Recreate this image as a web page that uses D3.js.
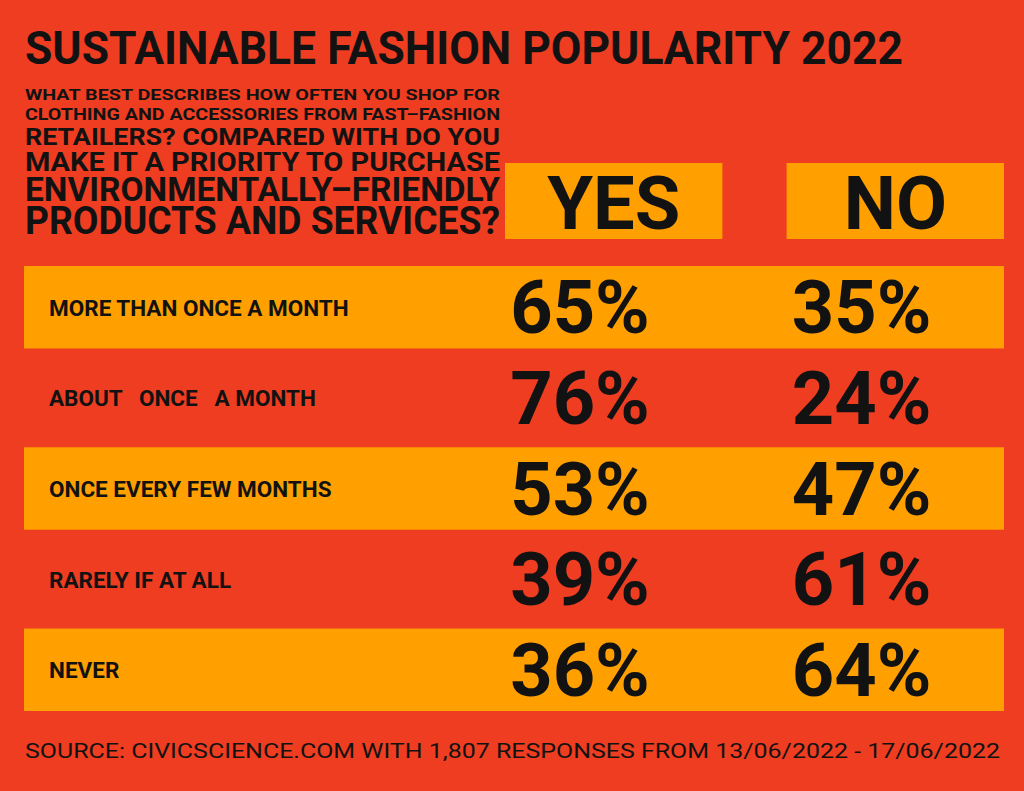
<!DOCTYPE html>
<html>
<head>
<meta charset="utf-8">
<script src="https://cdn.jsdelivr.net/npm/d3@7"></script>
<style>
  body { margin: 0; background: #ef3d21; }
  svg { display: block; }
</style>
</head>
<body>
<div id="app"></div>
<script>
'use strict'
const title = 'SUSTAINABLE FASHION POPULARITY 2022'
const questionLines = [
  'WHAT BEST DESCRIBES HOW OFTEN YOU SHOP FOR',
  'CLOTHING AND ACCESSORIES FROM FAST–FASHION',
  'RETAILERS? COMPARED WITH DO YOU',
  'MAKE IT A PRIORITY TO PURCHASE',
  'ENVIRONMENTALLY–FRIENDLY',
  'PRODUCTS AND SERVICES?'
]
const categories = [
  'MORE THAN ONCE A MONTH',
  'ABOUT   ONCE   A MONTH',
  'ONCE EVERY FEW MONTHS',
  'RARELY IF AT ALL',
  'NEVER'
]
const columns = ['YES', 'NO']
const yesValues = [65, 76, 53, 39, 36]
const noValues = [35, 24, 47, 61, 64]
const source = 'SOURCE: CIVICSCIENCE.COM WITH 1,807 RESPONSES FROM 13/06/2022 - 17/06/2022'

const width = 1024
const height = 791
const red = '#ef3d21'
const orange = '#ffa000'
const ink = '#121212'
const font = 'Roboto, "Noto Sans", sans-serif'

// layout of the question block (each line is justified to the same width)
const qBaselines = [100, 120, 145, 170.5, 200.5, 234]
const qSizes = [15.5, 16, 24.5, 26, 33, 38]

const rows = categories.map((c, i) => ({ cat: c, YES: yesValues[i], NO: noValues[i], i }))

const svg = d3.select('#app').append('svg')
  .attr('width', width)
  .attr('height', height)

svg.append('rect')
  .attr('width', width)
  .attr('height', height)
  .attr('fill', red)

const y = d3.scaleBand()
  .domain(categories)
  .range([266, 711])
  .paddingInner(0.09)

const x = d3.scaleBand()
  .domain(columns)
  .range([505, 1004])
  .paddingInner(0.228)

// title
svg.append('text')
  .attr('x', 25)
  .attr('y', 64)
  .attr('textLength', 878)
  .attr('lengthAdjust', 'spacingAndGlyphs')
  .style('font', `700 47px ${font}`)
  .attr('fill', ink)
  .text(title)

// question
svg.selectAll('text.q')
  .data(questionLines)
  .enter().append('text')
  .attr('class', 'q')
  .attr('x', 25)
  .attr('y', (d, i) => qBaselines[i])
  .attr('textLength', 475)
  .attr('lengthAdjust', 'spacingAndGlyphs')
  .style('font-family', font)
  .style('font-weight', 700)
  .style('font-size', (d, i) => qSizes[i] + 'px')
  .attr('fill', ink)
  .text(d => d)

// column headers
const head = svg.selectAll('g.head')
  .data(columns)
  .enter().append('g')
  .attr('class', 'head')

head.append('rect')
  .attr('x', d => x(d))
  .attr('y', 163)
  .attr('width', x.bandwidth())
  .attr('height', 76)
  .attr('fill', orange)

head.append('text')
  .attr('x', d => x(d) + x.bandwidth() / 2)
  .attr('y', 229)
  .attr('text-anchor', 'middle')
  .style('font', `700 74px ${font}`)
  .attr('fill', ink)
  .text(d => d)

// alternating row bands
svg.selectAll('rect.band')
  .data(rows.filter(d => d.i % 2 === 0))
  .enter().append('rect')
  .attr('class', 'band')
  .attr('x', 24)
  .attr('y', d => y(d.cat))
  .attr('width', 1004 - 24)
  .attr('height', y.bandwidth())
  .attr('fill', orange)

// row labels
svg.selectAll('text.label')
  .data(rows)
  .enter().append('text')
  .attr('class', 'label')
  .attr('x', 49)
  .attr('y', d => y(d.cat) + y.bandwidth() / 2 + 8.5)
  .style('font', `700 22.5px ${font}`)
  .style('white-space', 'pre')
  .attr('fill', ink)
  .text(d => d.cat)

// values
columns.forEach(col => {
  svg.selectAll('text.v' + col)
    .data(rows)
    .enter().append('text')
    .attr('class', 'v' + col)
    .attr('x', x(col) + x.bandwidth() * 0.345)
    .attr('y', d => y(d.cat) + y.bandwidth() / 2 + 26)
    .attr('text-anchor', 'middle')
    .style('font', `700 74px ${font}`)
    .attr('fill', ink)
    .text(d => d[col] + '%')
})

// source
svg.append('text')
  .attr('x', 25)
  .attr('y', 758)
  .attr('textLength', 975)
  .attr('lengthAdjust', 'spacingAndGlyphs')
  .style('font', `400 21px ${font}`)
  .attr('fill', ink)
  .text(source)
</script>
</body>
</html>
